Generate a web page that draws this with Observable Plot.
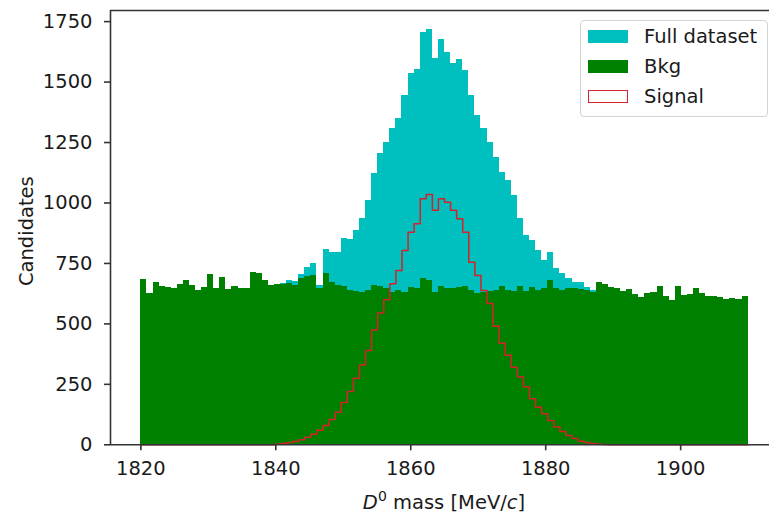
<!DOCTYPE html>
<html><head><meta charset="utf-8">
<script src="https://cdn.jsdelivr.net/npm/d3@7"></script>
<script src="https://cdn.jsdelivr.net/npm/@observablehq/plot@0.6"></script>
<style>
body{margin:0;background:#fff;}
#wrap{position:relative;width:769px;height:513px;overflow:hidden;font-family:"DejaVu Sans";}
#wrap svg{display:block;}
.legend{position:absolute;left:580px;top:20px;width:188px;height:97px;box-sizing:border-box;border:1px solid #d4d4d4;border-radius:4px;background:rgba(255,255,255,0.8);}
.row{position:absolute;left:588px;height:30px;display:flex;align-items:center;font-size:19.5px;color:#1a1a1a;white-space:nowrap;}
.sw{width:40px;height:13px;margin-right:16px;box-sizing:border-box;}
</style></head>
<body><div id="wrap"></div>
<script>
// ---- data ----
const binLo = 1820, binHi = 1910, nBins = 100;
const fullCounts = [
 684, 624, 673, 655, 652, 648, 662, 680, 659, 638,
 652, 704, 645, 690, 641, 655, 648, 645, 714, 710,
 678, 659, 664, 667, 680, 675, 705, 732, 748, 658,
 806, 797, 797, 852, 850, 886, 935, 1010, 1121, 1203,
 1251, 1307, 1348, 1445, 1534, 1551, 1706, 1716, 1596, 1675,
 1624, 1578, 1592, 1548, 1445, 1362, 1307, 1251, 1190, 1127,
 1093, 1031, 935, 866, 845, 805, 762, 797, 728, 707,
 686, 672, 672, 652, 640, 672, 664, 650, 645, 635,
 641, 620, 611, 624, 628, 656, 614, 596, 656, 617,
 620, 645, 624, 614, 614, 611, 600, 606, 601, 614];
const bkgCounts = [
 684, 624, 673, 655, 652, 648, 662, 680, 659, 638,
 652, 704, 645, 690, 641, 655, 648, 645, 714, 710,
 678, 659, 662, 662, 666, 659, 687, 694, 700, 645,
 707, 672, 660, 655, 640, 635, 630, 638, 660, 655,
 645, 631, 640, 630, 650, 645, 686, 680, 630, 655,
 645, 648, 650, 655, 640, 624, 628, 635, 640, 655,
 640, 632, 655, 632, 652, 638, 645, 679, 645, 640,
 648, 645, 643, 638, 631, 670, 662, 649, 645, 635,
 641, 620, 611, 624, 628, 656, 614, 596, 656, 617,
 620, 645, 624, 614, 614, 611, 600, 606, 601, 614];
const signalCounts = [
 0, 0, 0, 0, 0, 0, 0, 0, 0, 0,
 0, 0, 0, 0, 0, 0, 0, 0, 0, 0,
 0, 0, 2, 5, 9, 14, 21, 31, 44, 60,
 80, 105, 135, 175, 220, 275, 330, 390, 475, 545,
 600, 666, 721, 803, 879, 914, 1017, 1035, 970, 1017,
 1003, 970, 935, 879, 755, 700, 638, 584, 490, 420,
 370, 321, 280, 240, 190, 155, 128, 100, 75, 55,
 38, 26, 15, 9, 5, 2, 1, 0, 0, 0,
 0, 0, 0, 0, 0, 0, 0, 0, 0, 0,
 0, 0, 0, 0, 0, 0, 0, 0, 0, 0];
const xTicks = [1820, 1840, 1860, 1880, 1900];
const yTicks = [0, 250, 500, 750, 1000, 1250, 1500, 1750];
const seriesNames = ["Full dataset", "Bkg", "Signal"];
const seriesColors = ["#00bfbf", "#008000", "#d8202a"];
const xLabelParts = [["D", "italic"], ["0", "sup"], [" mass [MeV/", "normal"], ["c", "italic"], ["]", "normal"]];
const yLabel = "Candidates";

// ---- tables ----
const bw = (binHi - binLo) / nBins;
const bins = d3.range(nBins).map(i => ({
  x1: binLo + i * bw, x2: binLo + (i + 1) * bw,
  full: fullCounts[i], bkg: bkgCounts[i], sig: signalCounts[i]
}));
const stepPts = bins.map(b => ({x: b.x1, y: b.sig})).concat([{x: binHi, y: signalCounts[nBins - 1]}]);
const xPad = (binHi - binLo) * 0.05;
const yMax = 1796;
const fmt = d => String(d);
const fs = 19.5;

const spine = "#333";
const chart = Plot.plot({
  width: 769, height: 513,
  marginLeft: 110, marginTop: 10, marginBottom: 68.7, marginRight: 0,
  x: {domain: [binLo - xPad, binHi + xPad], range: [110, 778]},
  y: {domain: [0, yMax], range: [444.3, 10]},
  style: {fontFamily: "DejaVu Sans", fontSize: fs + "px", color: "#1a1a1a", background: "#fff", overflow: "hidden"},
  marks: [
    Plot.rect(bins, {x1: "x1", x2: "x2", y1: 0, y2: "full", fill: seriesColors[0], shapeRendering: "crispEdges"}),
    Plot.rect(bins, {x1: "x1", x2: "x2", y1: 0, y2: "bkg", fill: seriesColors[1], shapeRendering: "crispEdges"}),
    Plot.line(stepPts, {x: "x", y: "y", curve: "step-after", stroke: seriesColors[2], strokeWidth: 1.5}),
    Plot.ruleY([0, yMax], {stroke: spine, strokeWidth: 1.6}),
    Plot.ruleX([binLo - xPad, binHi + xPad], {stroke: spine, strokeWidth: 1.6}),
    Plot.axisX(xTicks, {anchor: "bottom", tickSize: 6, tickPadding: 10, tickFormat: fmt, label: null, stroke: spine, strokeWidth: 1.6, fontSize: fs}),
    Plot.axisY(yTicks, {anchor: "left", tickSize: 6, tickPadding: 12, tickFormat: fmt, label: null, stroke: spine, strokeWidth: 1.6, fontSize: fs})
  ]
});

const svg = d3.select(chart);
const xr = chart.scale("x").range;
const yr = chart.scale("y").range;
const xl = svg.append("text")
  .attr("x", (xr[0] + xr[1]) / 2).attr("y", 508.5)
  .attr("text-anchor", "middle").attr("font-size", fs).attr("fill", "#1a1a1a")
  .attr("font-family", "DejaVu Sans");
xLabelParts.forEach(([t, s]) => {
  const sp = xl.append("tspan").text(t);
  if (s === "italic") sp.attr("font-style", "italic");
  if (s === "sup") sp.attr("font-size", 14).attr("dy", -8);
  if (s === "normal" && t.startsWith(" ")) sp.attr("dy", 8);
});
svg.append("text")
  .attr("transform", `translate(33,${(yr[0] + yr[1]) / 2 + 4}) rotate(-90)`)
  .attr("text-anchor", "middle").attr("font-size", fs).attr("fill", "#1a1a1a")
  .attr("font-family", "DejaVu Sans")
  .text(yLabel);

const wrap = document.getElementById("wrap");
wrap.appendChild(chart);

// legend
const leg = document.createElement("div");
leg.className = "legend";
wrap.appendChild(leg);
const rowCenters = [36.7, 66.3, 96.5];
seriesNames.forEach((name, i) => {
  const row = document.createElement("div");
  row.className = "row";
  row.style.top = (rowCenters[i] - 15) + "px";
  const sw = document.createElement("div");
  sw.className = "sw";
  if (i === 2) { sw.style.border = "1.5px solid " + seriesColors[i]; sw.style.background = "#fff"; }
  else sw.style.background = seriesColors[i];
  const tx = document.createElement("span");
  tx.textContent = name;
  row.appendChild(sw); row.appendChild(tx);
  wrap.appendChild(row);
});
</script>
</body></html>
